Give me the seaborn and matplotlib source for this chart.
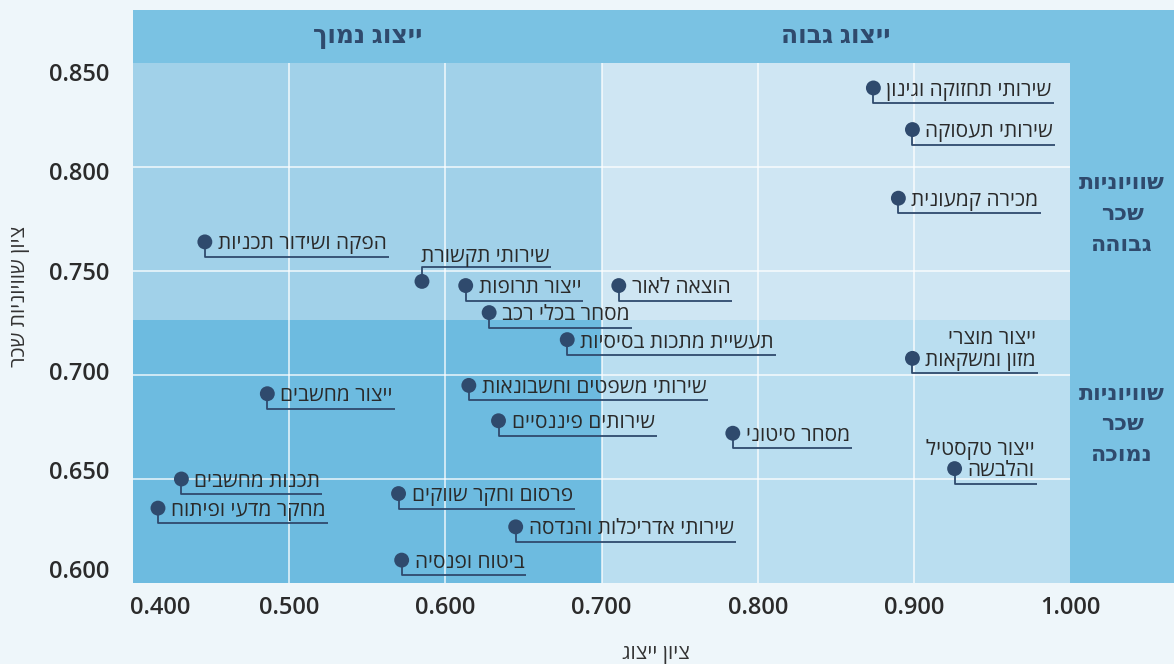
import matplotlib
matplotlib.use("Agg")
import matplotlib.pyplot as plt
from matplotlib.patches import Rectangle
from matplotlib.transforms import ScaledTranslation
import pandas as pd
import seaborn as sns

# sectors: x = representation index, y = pay equality index
sectors = [
    "שירותי תחזוקה וגינון",
    "שירותי תעסוקה",
    "מכירה קמעונית",
    "הפקה ושידור תכניות",
    "שירותי תקשורת",
    "ייצור תרופות",
    "הוצאה לאור",
    "מסחר בכלי רכב",
    "תעשיית מתכות בסיסיות",
    "ייצור מוצרי\nמזון ומשקאות",
    "שירותי משפטים וחשבונאות",
    "ייצור מחשבים",
    "שירותים פיננסיים",
    "מסחר סיטוני",
    "ייצור טקסטיל\nוהלבשה",
    "תכנות מחשבים",
    "פרסום וחקר שווקים",
    "מחקר מדעי ופיתוח",
    "שירותי אדריכלות והנדסה",
    "ביטוח ופנסיה",
]
representation = [0.874, 0.899, 0.890, 0.446, 0.585, 0.613, 0.711, 0.628, 0.678, 0.899,
                  0.615, 0.486, 0.634, 0.784, 0.926, 0.431, 0.570, 0.416, 0.645, 0.572]
pay_equality = [0.838, 0.818, 0.785, 0.764, 0.745, 0.743, 0.743, 0.730, 0.717, 0.708,
                0.695, 0.691, 0.678, 0.672, 0.655, 0.650, 0.643, 0.636, 0.627, 0.611]
label_above = ["שירותי תקשורת"]

x_ticks = [0.4, 0.5, 0.6, 0.7, 0.8, 0.9, 1.0]
y_ticks = [0.60, 0.65, 0.70, 0.75, 0.80, 0.85]
x_split = 0.7
y_split = 0.7265

bg = "#eef6fa"
navy = "#2f4a6d"
band = "#7ac2e3"
q_colors = {"tl": "#a1d1e9", "tr": "#cfe6f3", "bl": "#6dbbe0", "br": "#badef0"}


def rtl(s):
    return s[::-1]


df = pd.DataFrame({"sector": sectors, "x": representation, "y": pay_equality})

sns.set_style("white")
plt.rcParams["font.family"] = ["Open Sans", "DejaVu Sans"]

fig = plt.figure(figsize=(11.74, 6.64), dpi=100, facecolor=bg)
ax = fig.add_axes([133 / 1174, 81 / 664, 1041 / 1174, 573 / 664])
ax.set_facecolor(bg)

x0, x1 = 0.4, 0.4 + 1041 / 1562
y0, y1 = 0.6, 0.6 + 573 / 2080
ax.set_xlim(x0, x1)
ax.set_ylim(y0, y1)
top = 0.85
right = 1.0

# quadrants
ax.add_patch(Rectangle((x0, y_split), x_split - x0, top - y_split, color=q_colors["tl"], lw=0, zorder=0))
ax.add_patch(Rectangle((x_split, y_split), right - x_split, top - y_split, color=q_colors["tr"], lw=0, zorder=0))
ax.add_patch(Rectangle((x0, y0), x_split - x0, y_split - y0, color=q_colors["bl"], lw=0, zorder=0))
ax.add_patch(Rectangle((x_split, y0), right - x_split, y_split - y0, color=q_colors["br"], lw=0, zorder=0))
# header band and right strip
ax.add_patch(Rectangle((x0, top), x1 - x0, y1 - top, color=band, lw=0, zorder=0))
ax.add_patch(Rectangle((right, y0), x1 - right, top - y0, color=band, lw=0, zorder=0))

# grid
ax.vlines(x_ticks[1:-1], y0, top, color="white", lw=1.1, alpha=0.85, zorder=1)
ax.hlines(y_ticks[1:-1], x0, right, color="white", lw=1.1, alpha=0.85, zorder=1)

sns.scatterplot(data=df, x="x", y="y", ax=ax, s=115, color=navy, edgecolor="none", zorder=4, legend=False)

ax.set_xticks(x_ticks)
ax.set_xticklabels([f"{t:.3f}" for t in x_ticks])
ax.set_yticks(y_ticks)
ax.set_yticklabels([f"{t:.3f}" for t in y_ticks])
ax.tick_params(length=0, labelsize=17, labelcolor="#2b2b2b")
ax.tick_params(axis="x", pad=9)
ax.tick_params(axis="y", pad=17)
for lab in ax.get_xticklabels() + ax.get_yticklabels():
    lab.set_fontweight("semibold")
# y labels drift slightly from the grid in the original
for v, lab in zip(y_ticks, ax.get_yticklabels()):
    up = (0.75 - v) / 0.05 * 4.5
    lab.set_transform(lab.get_transform() + ScaledTranslation(0, up / 100, fig.dpi_scale_trans))
first = ax.get_xticklabels()[0]
first.set_horizontalalignment("left")
first.set_transform(first.get_transform() + ScaledTranslation(-3 / 100, 0, fig.dpi_scale_trans))
for s in ax.spines.values():
    s.set_visible(False)
ax.set_xlabel("")
ax.set_ylabel("")

fig.text(656 / 1174, 1 - 653 / 664, rtl("ציון ייצוג"), fontsize=15, color="#333333",
         ha="center", va="center")
fig.text(20 / 1174, 1 - 296 / 664, rtl("ציון שוויוניות שכר"), fontsize=15, color="#333333",
         ha="center", va="center", rotation=90)

# headers
ax.text((x0 + x_split) / 2, (top + y1) / 2, rtl("ייצוג נמוך"), ha="center", va="center",
        fontsize=18, fontweight="bold", color=navy)
ax.text((x_split + right) / 2, (top + y1) / 2, rtl("ייצוג גבוה"), ha="center", va="center",
        fontsize=18, fontweight="bold", color=navy)
strip_x = (right + x1) / 2
ax.text(strip_x, y_split + 0.0505, "\n".join(rtl(w) for w in ["שוויוניות", "שכר", "גבוהה"]),
        ha="center", va="center", fontsize=16, fontweight="bold", color=navy, linespacing=1.62)
ax.text(strip_x, y_split - 0.0505, "\n".join(rtl(w) for w in ["שוויוניות", "שכר", "נמוכה"]),
        ha="center", va="center", fontsize=16, fontweight="bold", color=navy, linespacing=1.62)

# labels next to each point
label_kw = dict(fontsize=15, color="#2a2a2a", va="center", zorder=5)
main_texts = []
for name, x, y in zip(sectors, representation, pay_equality):
    lines = name.split("\n")
    if name in label_above:
        t = ax.annotate(rtl(lines[-1]), (x, y), xytext=(-1, 25 * 0.72), textcoords="offset points",
                        ha="left", **label_kw)
    else:
        t = ax.annotate(rtl(lines[-1]), (x, y), xytext=(13 * 0.72, -1.5), textcoords="offset points",
                        ha="left", **label_kw)
    main_texts.append((t, name, lines, x, y))

fig.canvas.draw()
renderer = fig.canvas.get_renderer()
inv = ax.transData.inverted()
for t, name, lines, x, y in main_texts:
    bb = t.get_window_extent(renderer)
    px, py = ax.transData.transform((x, y))
    dy = 14 if name in label_above else -15
    pts = inv.transform([(px, py), (px, py + dy), (bb.x1 + 2, py + dy)])
    ax.plot(pts[:, 0], pts[:, 1], color=navy, lw=1.3, zorder=3, solid_capstyle="butt")
    for k, extra in enumerate(reversed(lines[:-1])):
        lx, ly = inv.transform((bb.x1, py - 2 + 21.5 * (k + 1)))
        ax.text(lx, ly, rtl(extra), ha="right", **label_kw)

fig.savefig("out.png", dpi=100, facecolor=bg)
